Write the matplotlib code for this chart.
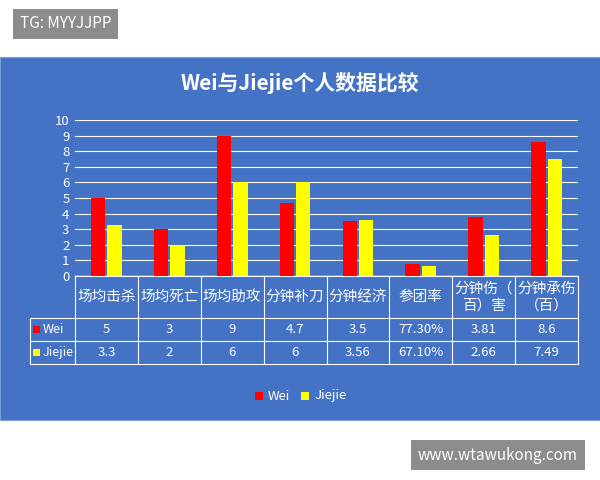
import matplotlib
matplotlib.use("Agg")
import matplotlib.pyplot as plt
import numpy as np
from matplotlib.patches import Rectangle

plt.rcParams['font.family'] = ['Noto Sans CJK SC', 'DejaVu Sans']

categories = ["场均击杀", "场均死亡", "场均助攻", "分钟补刀", "分钟经济", "参团率", "分钟伤（\n百）害", "分钟承伤\n（百）"]
wei_vals = [5, 3, 9, 4.7, 3.5, 0.773, 3.81, 8.6]
jiejie_vals = [3.3, 2, 6, 6, 3.56, 0.671, 2.66, 7.49]
wei_labels = ["5", "3", "9", "4.7", "3.5", "77.30%", "3.81", "8.6"]
jiejie_labels = ["3.3", "2", "6", "6", "3.56", "67.10%", "2.66", "7.49"]
yticks = list(range(0, 11))

BLUE = "#4472C4"
fig = plt.figure(figsize=(6, 4.8), dpi=100)
fig.patches.append(Rectangle((0, 1 - 420/480), 1, (420-57)/480, transform=fig.transFigure,
                             facecolor=BLUE, edgecolor="#7f9fd8", lw=0.8, zorder=-5))
ax = fig.add_axes([75/600, 1-276/480, (578-75)/600, (276-120)/480])
ax.set_zorder(2)
ax.patch.set_alpha(0)
x = np.arange(len(categories))
w = 0.23
ax.bar(x - 0.13, wei_vals, w, color="#FF0000", zorder=3)
ax.bar(x + 0.13, jiejie_vals, w, color="#FFFF00", zorder=3)
ax.set_xlim(-0.5, len(categories) - 0.5)
ax.set_ylim(0, 10)
ax.set_yticks(yticks)
ax.set_yticklabels([str(v) for v in yticks], color="white", fontsize=9.5)
ax.tick_params(axis='y', length=0, pad=4)
ax.set_xticks([])
ax.grid(axis='y', color="white", lw=0.8, zorder=0)
for s in ax.spines.values():
    s.set_visible(False)
ax.axhline(0, color="white", lw=1)

fig.text(0.5, 1-83/480, "Wei与Jiejie个人数据比较", ha="center", va="center",
         color="white", fontsize=15, fontweight="bold")

def fy(py):
    return 1 - py/480
rows = [276, 318, 341, 364]
colx = [30] + [75 + i*(503/8) for i in range(9)]
for py in rows:
    fig.add_artist(plt.Line2D([75/600 if py == 276 else 30/600, 578/600], [fy(py)]*2, color="white", lw=0.8))
for i, cx in enumerate(colx):
    top = 276 if i > 0 else 318
    fig.add_artist(plt.Line2D([cx/600]*2, [fy(top), fy(364)], color="white", lw=0.8))
for i, c in enumerate(categories):
    cx = (75 + (i+0.5)*503/8)/600
    fig.text(cx, fy(297), c, ha="center", va="center", color="white", fontsize=10.5, linespacing=1.3)
    fig.text(cx, fy(329.5), wei_labels[i], ha="center", va="center", color="white", fontsize=9.5)
    fig.text(cx, fy(352.5), jiejie_labels[i], ha="center", va="center", color="white", fontsize=9.5)
fig.patches.append(Rectangle((33/600, fy(333)), 7/600, 7/480, transform=fig.transFigure, facecolor="#FF0000"))
fig.patches.append(Rectangle((33/600, fy(356)), 7/600, 7/480, transform=fig.transFigure, facecolor="#FFFF00"))
fig.text(43/600, fy(329.5), "Wei", va="center", color="white", fontsize=9)
fig.text(43/600, fy(352.5), "Jiejie", va="center", color="white", fontsize=9)

fig.patches.append(Rectangle((255/600, fy(400)), 8/600, 8/480, transform=fig.transFigure, facecolor="#FF0000"))
fig.text(268/600, fy(396), "Wei", va="center", color="white", fontsize=9.5)
fig.patches.append(Rectangle((301/600, fy(400)), 8/600, 8/480, transform=fig.transFigure, facecolor="#FFFF00"))
fig.text(314/600, fy(396), "Jiejie", va="center", color="white", fontsize=9.5)

fig.text(20/600, fy(24), "TG: MYYJJPP", va="center", color="white", fontsize=11,
         bbox=dict(boxstyle="square,pad=0.45", fc="#8c8c8c", ec="none"))
fig.text(418/600, fy(455), "www.wtawukong.com", va="center", color="white", fontsize=11,
         bbox=dict(boxstyle="square,pad=0.45", fc="#8c8c8c", ec="none"))

fig.savefig("out.png", dpi=100, facecolor="white")
